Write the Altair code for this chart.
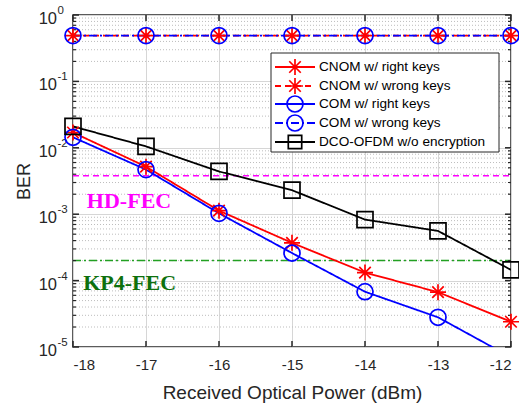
import altair as alt
import pandas as pd

# ---------------- data ----------------
power = [-18, -17, -16, -15, -14, -13, -12]
cnom_right = [0.017, 0.0052, 0.00113, 0.00037, 0.000132, 0.000067, 0.000024]
cnom_wrong = [0.49, 0.49, 0.49, 0.49, 0.49, 0.49, 0.49]
com_right = [0.0144, 0.0047, 0.00103, 0.00026, 0.000068, 0.000028, 0.000007]
com_wrong = [0.49, 0.49, 0.49, 0.49, 0.49, 0.49, 0.49]
dco_ofdm = [0.021, 0.0105, 0.0044, 0.0023, 0.00083, 0.00056, 0.000145]

series_names = ["CNOM w/ right keys", "CNOM w/ wrong keys", "COM w/ right keys",
                "COM w/ wrong keys", "DCO-OFDM w/o encryption"]
series_values = [cnom_right, cnom_wrong, com_right, com_wrong, dco_ofdm]

fec_names = ["HD-FEC", "KP4-FEC"]
fec_levels = [3.8e-3, 2e-4]
fec_label_x = [-17.81, -17.86]
fec_label_y = [1.6e-3, 9.3e-5]

x_ticks = [-18, -17, -16, -15, -14, -13, -12]
decades = [1, 0.1, 0.01, 0.001, 0.0001, 0.00001]
exponents = ["0", "-1", "-2", "-3", "-4", "-5"]
minor = [m * 10.0 ** e for e in range(-5, 0) for m in range(2, 10)]

# ---------------- styles ----------------
ASTER = "M-1,0L1,0M0,-1L0,1M-0.72,-0.72L0.72,0.72M-0.72,0.72L0.72,-0.72"
series_colors = ["#ff0000", "#ff0000", "#0000ff", "#0000ff", "#000000"]
series_dash = [[1, 0], [6, 4], [1, 0], [8, 3, 2, 3], [1, 0]]
series_shapes = [ASTER, ASTER, "circle", "circle", "square"]
series_sizes = [256, 256, 256, 256, 180]
fec_colors = ["#ff00ff", "#22a022"]
fec_text_colors = ["#ff00ff", "#0d700d"]
fec_dash = [[6, 4], [8, 3, 2, 3]]

W, H = 438, 332
DARK = "#262626"

rows = []
for name, vals in zip(series_names, series_values):
    for p, v in zip(power, vals):
        rows.append({"series": name, "power": p, "ber": v})
df = pd.DataFrame(rows)

xs = alt.Scale(domain=[-18, -12], nice=False, zero=False)
ys = alt.Scale(type="log", domain=[1e-5, 1], nice=False)
xaxis = alt.Axis(values=x_ticks, grid=True, gridColor="#d6d6d6", gridWidth=1,
                 domain=False, ticks=False, labelFontSize=15, labelPadding=10,
                 labelExpr="'' + datum.value", labelColor=DARK,
                 title="Received Optical Power (dBm)", titleFontSize=19,
                 titleFontWeight="normal", titleColor=DARK,
                 titleBaseline="alphabetic", titleY=51, titleX=W / 2)
yaxis = alt.Axis(values=decades, grid=True, gridColor="#d6d6d6", gridWidth=1,
                 domain=False, ticks=False, labels=False,
                 title="BER", titleFontSize=18, titleFontWeight="normal",
                 titleColor=DARK, titleBaseline="alphabetic", titleAngle=-90,
                 titleX=-44, titleY=H / 2)

X = lambda f: alt.X(f, scale=xs, axis=xaxis)
Y = lambda f: alt.Y(f, scale=ys, axis=yaxis)

col = alt.Color("series:N", scale=alt.Scale(domain=series_names, range=series_colors), legend=None)
dash = alt.StrokeDash("series:N", scale=alt.Scale(domain=series_names, range=series_dash), legend=None)
shp = alt.Shape("series:N", scale=alt.Scale(domain=series_names, range=series_shapes), legend=None)
siz = alt.Size("series:N", scale=alt.Scale(domain=series_names, range=series_sizes), legend=None)

minor_df = pd.DataFrame({"v": minor})
grid_minor = alt.Chart(minor_df).mark_rule(color="#bdbdbd", strokeDash=[1, 2], strokeWidth=1).encode(
    y=Y("v:Q"), x=alt.value(0), x2=alt.value(W))

base = alt.Chart(pd.DataFrame({"p": x_ticks})).mark_rule(opacity=0).encode(
    x=X("p:Q"), y=alt.value(0), y2=alt.value(1))

# inward ticks
xt = pd.DataFrame({"p": x_ticks})
xtick_b = alt.Chart(xt).mark_rule(color=DARK, strokeWidth=1.5).encode(x=X("p:Q"), y=alt.value(H), y2=alt.value(H - 6))
xtick_t = alt.Chart(xt).mark_rule(color=DARK, strokeWidth=1.5).encode(x=X("p:Q"), y=alt.value(0), y2=alt.value(6))
yt = pd.DataFrame({"v": decades})
ytick_l = alt.Chart(yt).mark_rule(color=DARK, strokeWidth=1.5).encode(y=Y("v:Q"), x=alt.value(0), x2=alt.value(6))
ytick_r = alt.Chart(yt).mark_rule(color=DARK, strokeWidth=1.5).encode(y=Y("v:Q"), x=alt.value(W), x2=alt.value(W - 6))
ymin_l = alt.Chart(minor_df).mark_rule(color=DARK, strokeWidth=1.2).encode(y=Y("v:Q"), x=alt.value(0), x2=alt.value(3))
ymin_r = alt.Chart(minor_df).mark_rule(color=DARK, strokeWidth=1.2).encode(y=Y("v:Q"), x=alt.value(W), x2=alt.value(W - 3))

# y labels 10^k
ylab_df = pd.DataFrame({"v": decades, "e": exponents})
ylab_base = alt.Chart(ylab_df).mark_text(align="right", baseline="middle", fontSize=16.5, dy=4, color=DARK).encode(
    y=Y("v:Q"), x=alt.value(-16), text=alt.value("10"))
ylab_exp = alt.Chart(ylab_df).mark_text(align="left", baseline="middle", fontSize=11.5, dy=-4, color=DARK).encode(
    y=Y("v:Q"), x=alt.value(-15.5), text="e:N")

# FEC lines and labels (one layer each, constant styles)
fec_layers = []
fec_text_layers = []
for i, name in enumerate(fec_names):
    fdf = pd.DataFrame({"level": [fec_levels[i]], "lx": [fec_label_x[i]], "ly": [fec_label_y[i]], "name": [name]})
    fec_layers.append(alt.Chart(fdf).mark_rule(strokeWidth=1.5, color=fec_colors[i], strokeDash=fec_dash[i]).encode(
        y=Y("level:Q"), x=alt.value(0), x2=alt.value(W)))
    fec_text_layers.append(alt.Chart(fdf).mark_text(align="left", baseline="middle", fontSize=22,
                                                    font="Liberation Serif", fontWeight="bold",
                                                    color=fec_text_colors[i]).encode(
        x=X("lx:Q"), y=Y("ly:Q"), text="name:N"))

lines = alt.Chart(df).mark_line(clip=True, strokeWidth=1.8).encode(
    x=X("power:Q"), y=Y("ber:Q"), color=col, strokeDash=dash, detail="series:N")
points = alt.Chart(df).transform_filter("datum.ber >= 1e-5").mark_point(filled=False, strokeWidth=1.7, opacity=1).encode(
    x=X("power:Q"), y=Y("ber:Q"), color=col, shape=shp, size=siz)

# legend
one = pd.DataFrame({"a": [0]})
LX0, LX1, LY0, LY1 = 198, 426, 38, 137
leg_layers = [alt.Chart(one).mark_rect(fill="white", stroke=DARK, strokeWidth=1).encode(
    x=alt.value(LX0), x2=alt.value(LX1), y=alt.value(LY0), y2=alt.value(LY1))]
row_y = [52, 71, 89, 108, 127]
for i, name in enumerate(series_names):
    yy = row_y[i]
    leg_layers.append(alt.Chart(one).mark_rule(color=series_colors[i], strokeWidth=1.8,
                                                strokeDash=series_dash[i]).encode(
        x=alt.value(202), x2=alt.value(242), y=alt.value(yy)))
    leg_layers.append(alt.Chart(one).mark_point(filled=False, color=series_colors[i], strokeWidth=1.7,
                                                 shape=series_shapes[i], size=series_sizes[i], opacity=1).encode(
        x=alt.value(222), y=alt.value(yy)))
    leg_layers.append(alt.Chart(one).mark_text(align="left", baseline="middle", fontSize=13.6, color="#000000").encode(
        x=alt.value(246), y=alt.value(yy), text=alt.value(name)))

chart = alt.layer(
    base, grid_minor, *fec_layers, xtick_b, xtick_t, ytick_l, ytick_r, ymin_l, ymin_r,
    ylab_base, ylab_exp, lines, points, *fec_text_layers, *leg_layers
).properties(
    width=W, height=H,
    autosize=alt.AutoSizeParams(type="none"),
    padding={"left": 73, "top": 15, "right": 8, "bottom": 56},
).configure(font="Liberation Sans").configure_view(stroke=DARK, strokeWidth=1.5)

chart.save("out.html", embed_options={"renderer": "svg", "actions": False})
